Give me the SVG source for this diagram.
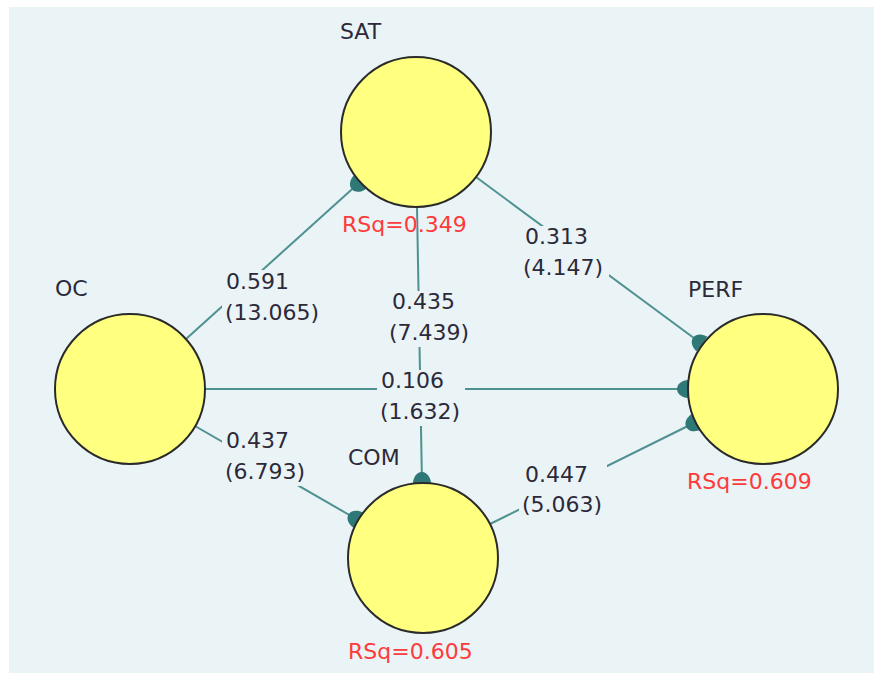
<svg xmlns="http://www.w3.org/2000/svg" width="874" height="673" viewBox="0 0 874 673">
<style>
.bg{fill:#eaf3f5}
.node{fill:#ffff80;stroke:#2a2a2a;stroke-width:2}
.edge{stroke:#4f9090;stroke-width:2;fill:none;marker-end:url(#head)}
.t{font-family:"DejaVu Sans",Verdana,sans-serif;font-size:22px;fill:#2c2a3a}
.rsq{font-family:"DejaVu Sans",Verdana,sans-serif;font-size:22px;fill:#ff3a3a}
.lbg{fill:#eaf3f5}
</style>
<defs>
<marker id="head" markerUnits="userSpaceOnUse" markerWidth="24" markerHeight="24" refX="1" refY="0" viewBox="-12 -12 24 24" orient="auto" overflow="visible">
<path d="M1,-9 C-3,-9 -10,-6 -10,0 C-10,6 -3,9 1,9 Z" fill="#2f7878"/>
</marker>
</defs>
<rect x="0" y="0" width="874" height="673" fill="#ffffff"/>
<rect class="bg" x="9" y="7" width="865" height="666"/>
<g id="connectors">
<line class="edge" x1="186" y1="339" x2="360" y2="182"/>
<line class="edge" x1="476" y1="177" x2="702" y2="344"/>
<line class="edge" x1="205" y1="389" x2="688" y2="389"/>
<line class="edge" x1="195" y1="426" x2="358" y2="520"/>
<line class="edge" x1="490" y1="524" x2="696" y2="422"/>
<line class="edge" x1="417" y1="207" x2="422" y2="483"/>
<g id="labels">
<rect class="lbg" x="222" y="270" width="102" height="56"/>
<text class="t" x="226" y="289">0.591</text>
<text class="t" x="225" y="320">(13.065)</text>
<rect class="lbg" x="521" y="226" width="88" height="56"/>
<text class="t" x="525" y="244">0.313</text>
<text class="t" x="523" y="275">(4.147)</text>
<rect class="lbg" x="386" y="291" width="88" height="56"/>
<text class="t" x="392" y="309">0.435</text>
<text class="t" x="389" y="340">(7.439)</text>
<rect class="lbg" x="377" y="370" width="88" height="56"/>
<text class="t" x="381" y="388">0.106</text>
<text class="t" x="380" y="419">(1.632)</text>
<rect class="lbg" x="222" y="430" width="88" height="56"/>
<text class="t" x="226" y="448">0.437</text>
<text class="t" x="225" y="479">(6.793)</text>
<rect class="lbg" x="519" y="463" width="88" height="56"/>
<text class="t" x="525" y="482">0.447</text>
<text class="t" x="522" y="512">(5.063)</text>
</g>
</g>
<g id="SAT">
<circle class="node" cx="416" cy="132" r="75"/>
<text class="t" x="340" y="39">SAT</text>
<text class="rsq" x="342" y="232">RSq=0.349</text>
</g>
<g id="OC">
<circle class="node" cx="130" cy="389" r="75"/>
<text class="t" x="55" y="296">OC</text>
</g>
<g id="COM">
<circle class="node" cx="423" cy="558" r="75"/>
<text class="t" x="348" y="465">COM</text>
<text class="rsq" x="348" y="659">RSq=0.605</text>
</g>
<g id="PERF">
<circle class="node" cx="763" cy="389" r="75"/>
<text class="t" x="688" y="297">PERF</text>
<text class="rsq" x="687" y="489">RSq=0.609</text>
</g>
</svg>
